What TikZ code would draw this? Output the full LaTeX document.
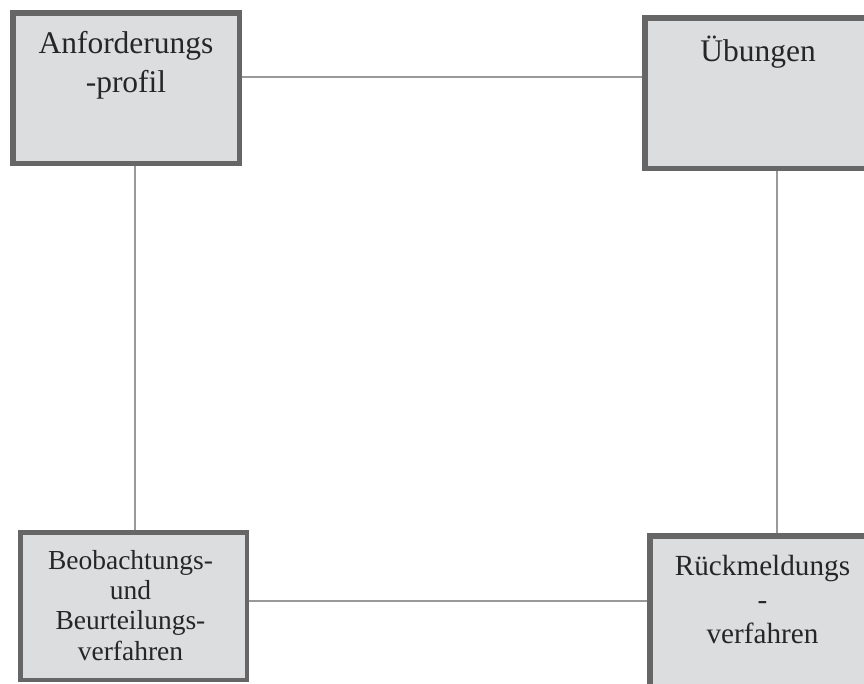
\documentclass[tikz,border=0pt]{standalone}
\usepackage{fontspec}
\setmainfont{Liberation Serif}
\usepackage{tikz}
\usetikzlibrary{calc, positioning}
\usepackage{xcolor}
\definecolor{boxfill}{HTML}{DCDDDF}
\definecolor{boxline}{HTML}{666666}
\definecolor{linkgray}{HTML}{999999}

\begin{document}
\begin{tikzpicture}[x=1pt, y=-1pt,
    box/.style={draw=boxline, fill=boxfill, line width=5.5pt, inner sep=0pt,
        minimum width=226.5pt, minimum height=150.5pt},
    lbl/.style={anchor=north, align=center, inner sep=0pt, text=black!85},
    link/.style={draw=linkgray, line width=2pt}]
    \useasboundingbox (0,0) rectangle (864,683);

    % the four boxes
    \node[box] (anf) at (126,88) {};
    \node[box] (ueb) at (758,93) {};
    \node[box, line width=4.5pt, minimum width=226.5pt, minimum height=147.5pt] (beo) at (133.5,606) {};
    \node[box] (rue) at (763,611) {};

    \node[lbl, font=\fontsize{31.5}{39}\selectfont] (anftxt) at (126,31.5) {Anforderungs\\-profil};
    \node[lbl, font=\fontsize{31.5}{39}\selectfont] (uebtxt) at (758,36) {Übungen};
    \node[lbl, font=\fontsize{27.5}{30.3}\selectfont] (beotxt) at (130.5,550) {Beobachtungs-\\und\\Beurteilungs-\\verfahren};
    \node[lbl, font=\fontsize{29.2}{34}\selectfont] (ruetxt) at (762.5,555) {Rückmeldungs\\-\\verfahren};

    % connectors
    \coordinate (a1) at ([yshift=11pt]anf.east);
    \coordinate (a2) at ([xshift=9pt]anf.south);
    \coordinate (u1) at ([xshift=19pt]ueb.south);
    \coordinate (b1) at ([yshift=5pt]beo.east);
    \draw[link] (a1) -- (a1 -| ueb.west);
    \draw[link] (a2) -- (a2 |- beo.north);
    \draw[link] (u1) -- (u1 |- rue.north);
    \draw[link] (b1) -- (b1 -| rue.west);
\end{tikzpicture}
\end{document}
